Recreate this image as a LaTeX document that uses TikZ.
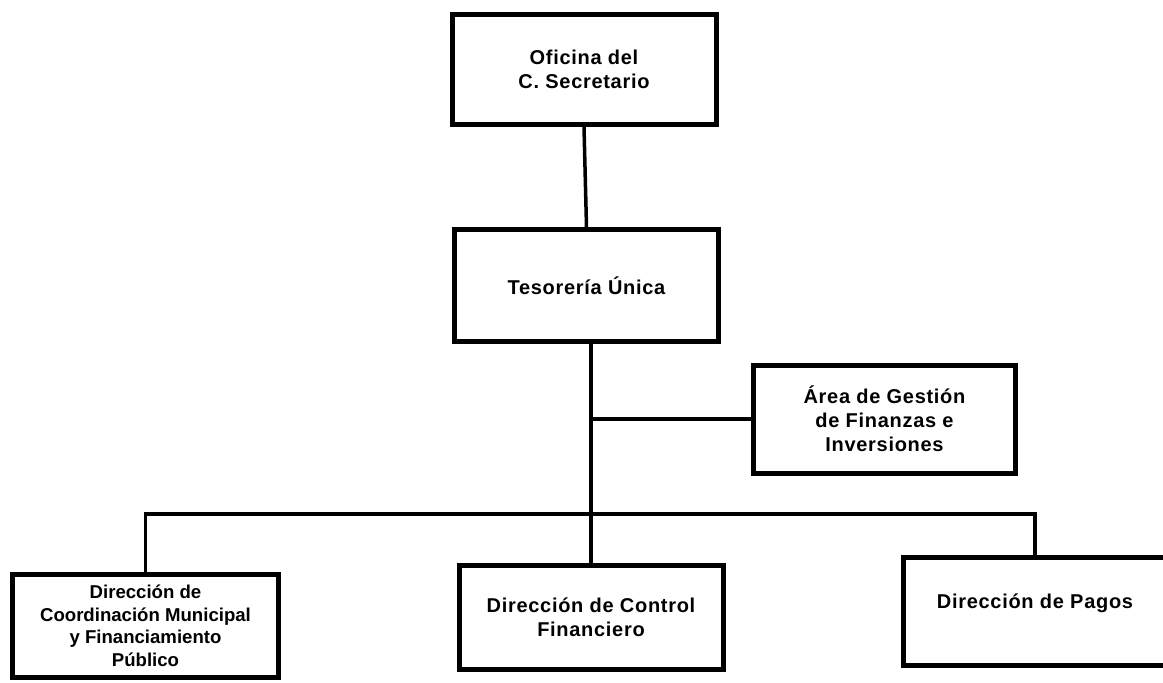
\documentclass[tikz,border=0pt]{standalone}
\usepackage{fontspec}
\setmainfont{Liberation Sans}
\newfontfamily\orgfont[LetterSpace=3.5]{Liberation Sans}
\begin{document}
\begin{tikzpicture}[x=1pt,y=-1pt]
    \newcommand{\bxw}{264pt} % width of the boxes
    \newcommand{\bxh}{108pt} % height of the boxes
    \newcommand{\lwbox}{5pt}
    \newcommand{\lwline}{3.5pt}

    % set the style of the units and the lines
    \tikzset{
        unit/.style={
            draw,
            line width=\lwbox,
            minimum width=\bxw,
            minimum height=\bxh,
            align=center,
            font=\orgfont\bfseries\fontsize{20}{24}\selectfont
            },
        link/.style={
            line width=\lwline
            }
    }
    \useasboundingbox (0,0) rectangle (1163,683);

    % units
    \node[unit, minimum height=110pt] (sec) at (584,69.5) {Oficina del\\C. Secretario};
    \node[unit, minimum height=112pt] (tes) at (586.5,285.5) {Tesorería Única};
    \node[unit, minimum width=262pt] (area) at (884.5,419) {Área de Gestión\\de Finanzas e\\Inversiones};
    \node[unit, minimum width=266pt, minimum height=103pt, font=\bfseries\fontsize{18.6}{22.5}\selectfont] (coord) at (145.5,626) {Dirección de\\Coordinación Municipal\\y Financiamiento\\Público};
    \node[unit, minimum height=104pt] (control) at (591,617.5) {Dirección de Control\\Financiero};
    \node[unit, text depth=20pt] (pagos) at (1035,611) {Dirección de Pagos};

    % lines
    \coordinate (bus) at (591,514);
    \draw[link] (sec.south) -- (tes.north);
    \draw[link] (control.north |- tes.south) -- (control.north);
    \draw[link] (control.north |- area.west) -- (area.west);
    \draw[link] (coord.north) |- (bus) -| (pagos.north);
\end{tikzpicture}
\end{document}
